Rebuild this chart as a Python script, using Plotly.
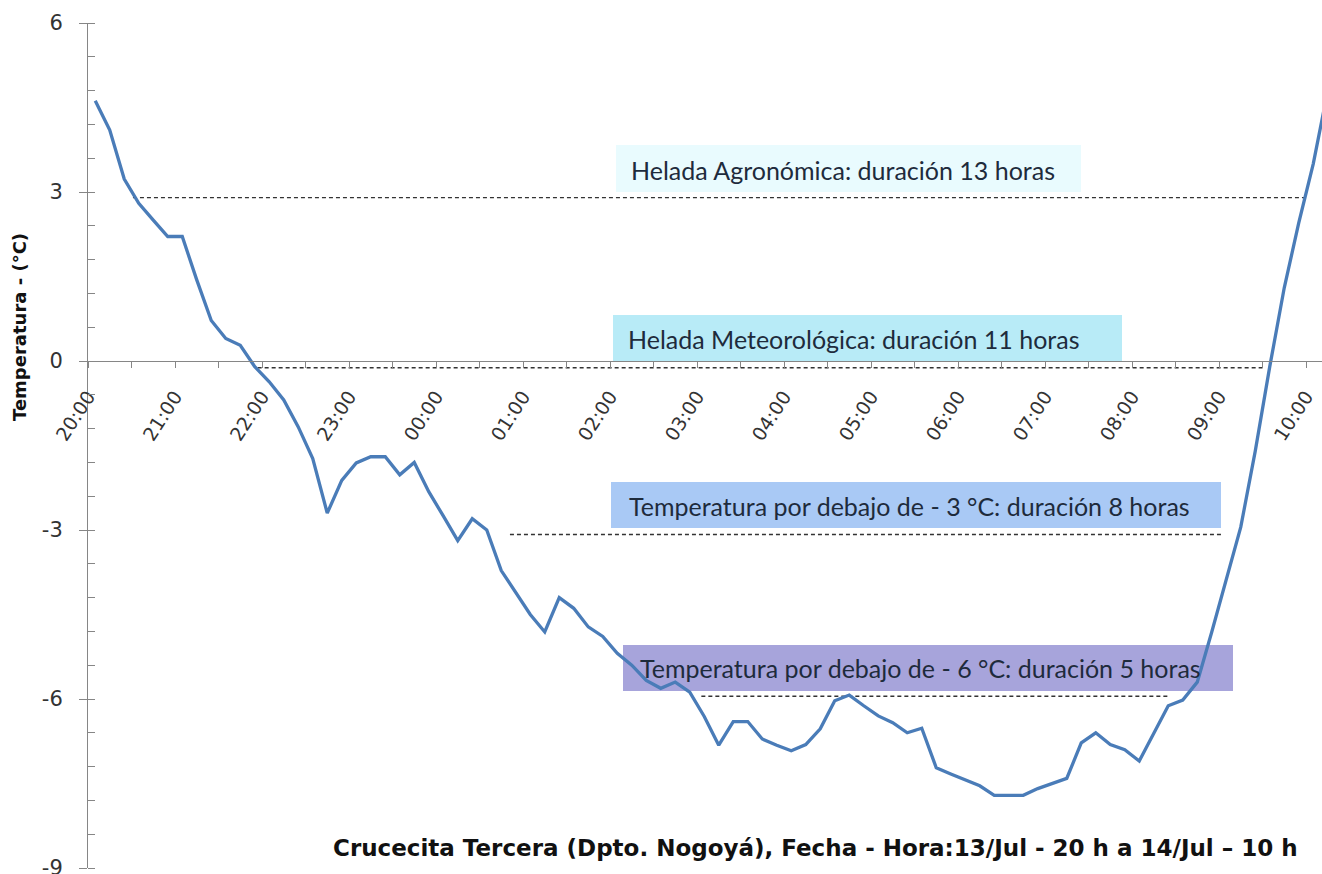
import plotly.graph_objects as go
import pandas as pd

# ---------------- data ----------------
# Temperature every 10 minutes, starting 13/Jul 20:05
temps = [4.62, 4.10, 3.23, 2.80, 2.50, 2.21, 2.21, 1.44, 0.72, 0.40,
         0.28, -0.10, -0.37, -0.69, -1.17, -1.73, -2.70, -2.12, -1.81, -1.70,
         -1.70, -2.02, -1.80, -2.32, -2.75, -3.19, -2.80, -3.00, -3.72, -4.10,
         -4.50, -4.81, -4.20, -4.39, -4.72, -4.89, -5.19, -5.40, -5.67, -5.81,
         -5.70, -5.88, -6.31, -6.82, -6.40, -6.40, -6.71, -6.82, -6.92, -6.81,
         -6.53, -6.03, -5.93, -6.12, -6.30, -6.42, -6.60, -6.52, -7.22, -7.33,
         -7.43, -7.54, -7.71, -7.71, -7.71, -7.59, -7.50, -7.41, -6.78, -6.60,
         -6.81, -6.90, -7.10, -6.61, -6.12, -6.02, -5.70, -4.81, -3.90, -2.95,
         -1.60, -0.10, 1.30, 2.45, 3.50, 4.80]
first_time = "2013-07-13 20:05"
times = pd.date_range(first_time, periods=len(temps), freq="10min")

hour_labels = ["20:00", "21:00", "22:00", "23:00", "00:00", "01:00", "02:00",
               "03:00", "04:00", "05:00", "06:00", "07:00", "08:00", "09:00", "10:00"]
hour_ticks = pd.date_range("2013-07-13 20:00", periods=len(hour_labels), freq="h")

# threshold (dashed) lines: level, start, end
thr_level = [2.9, -0.12, -3.08, -5.95]
thr_start = ["2013-07-13 20:31", "2013-07-13 21:57", "2013-07-14 00:51", "2013-07-14 03:03"]
thr_end = ["2013-07-14 10:00", "2013-07-14 09:30", "2013-07-14 09:03", "2013-07-14 08:26"]

labels = ["Helada Agronómica: duración 13 horas",
          "Helada Meteorológica: duración 11 horas",
          "Temperatura por debajo de - 3 °C: duración 8 horas",
          "Temperatura por debajo de - 6 °C: duración 5 horas"]
label_colors = ["#E9FBFE", "#B8EBF7", "#A9C9F5", "#A7A4DB"]

y_ticks = [-9, -6, -3, 0, 3, 6]
y_tick_labels = ["-9", "-6", "-3", "0", "3", "6"]

title_text = "Crucecita Tercera (Dpto. Nogoyá), Fecha - Hora:13/Jul - 20 h a 14/Jul – 10 h"
ytitle_text = "Temperatura - (°C)"

# ---------------- figure ----------------
W, H = 1322, 874
L, R, T, B = 88, 0, 23, 6
pw, ph = W - L - R, H - T - B


def px(x):  # page pixel -> paper x
    return (x - L) / pw


def py(y):  # page pixel -> paper y
    return (H - B - y) / ph


AXIS = "#868686"
fig = go.Figure()

for lvl, s, e in zip(thr_level, thr_start, thr_end):
    fig.add_trace(go.Scatter(x=[s, e], y=[lvl, lvl], mode="lines",
                             line=dict(color="#333333", width=1.4, dash="4px,3px"),
                             hoverinfo="skip", showlegend=False))

fig.add_trace(go.Scatter(x=times, y=temps, mode="lines",
                         line=dict(color="#4A7CB8", width=3.3),
                         showlegend=False))

# label boxes (pixel geometry of the layout)
boxes = [(616, 1081, 145, 192, 629, 170),
         (613, 1122, 315, 361, 626, 339),
         (611, 1221, 482, 528, 627, 506),
         (623, 1233, 645, 691, 638, 668)]
for (x0, x1, y0, y1, tx, ty), txt, col in zip(boxes, labels, label_colors):
    fig.add_shape(type="rect", xref="paper", yref="paper",
                  x0=px(x0), x1=px(x1), y0=py(y1), y1=py(y0),
                  fillcolor=col, line=dict(width=0), layer="below")
    fig.add_annotation(xref="paper", yref="paper", x=px(tx), y=py(ty),
                       text=txt, showarrow=False, xanchor="left", yanchor="middle",
                       font=dict(family="Lato", size=25, color="#1E2B3C"))

fig.add_annotation(xref="paper", yref="paper", x=px(815), y=py(848),
                   text="<b>" + title_text + "</b>", showarrow=False,
                   xanchor="center", yanchor="middle",
                   font=dict(family="DejaVu Sans", size=23, color="#111111"))

fig.add_annotation(xref="paper", yref="paper", x=px(19), y=py(327),
                   text="<b>" + ytitle_text + "</b>", showarrow=False, textangle=-90,
                   xanchor="center", yanchor="middle",
                   font=dict(family="DejaVu Sans", size=18, color="#111111"))

fig.update_layout(
    width=W, height=H,
    margin=dict(l=L, r=R, t=T, b=B, autoexpand=False),
    paper_bgcolor="white", plot_bgcolor="white",
    xaxis=dict(type="date", range=["2013-07-13 20:00", "2013-07-14 10:11:02"],
               anchor="free", position=9 / 15,
               tickvals=hour_ticks, ticktext=hour_labels, tickangle=-57,
               ticks="outside", ticklen=6, tickcolor=AXIS, tickwidth=1,
               minor=dict(dtick=1800000, tick0="2013-07-13 20:00", ticks="outside",
                          ticklen=6, tickcolor=AXIS, tickwidth=1),
               showline=True, linecolor=AXIS, linewidth=1,
               showgrid=False, zeroline=False, ticklabeloverflow="allow",
               tickfont=dict(family="DejaVu Sans", size=19, color="#333333"),
               ticklabelstandoff=10),
    yaxis=dict(range=[-9, 6], tickvals=y_ticks, ticktext=y_tick_labels,
               ticks="outside", ticklen=8,
               tickcolor=AXIS, tickwidth=1,
               minor=dict(dtick=0.6, tick0=0, ticks="inside", ticklen=7,
                          tickcolor=AXIS, tickwidth=1),
               showline=True, linecolor=AXIS, linewidth=1,
               showgrid=False, zeroline=False, ticklabeloverflow="allow",
               tickfont=dict(family="DejaVu Sans", size=21, color="#333333"),
               ticklabelstandoff=12),
)

fig.write_html("out.html",
               config={"displayModeBar": False},
               post_script="document.body.style.margin='0px';"
                           "document.body.style.overflow='hidden';")
